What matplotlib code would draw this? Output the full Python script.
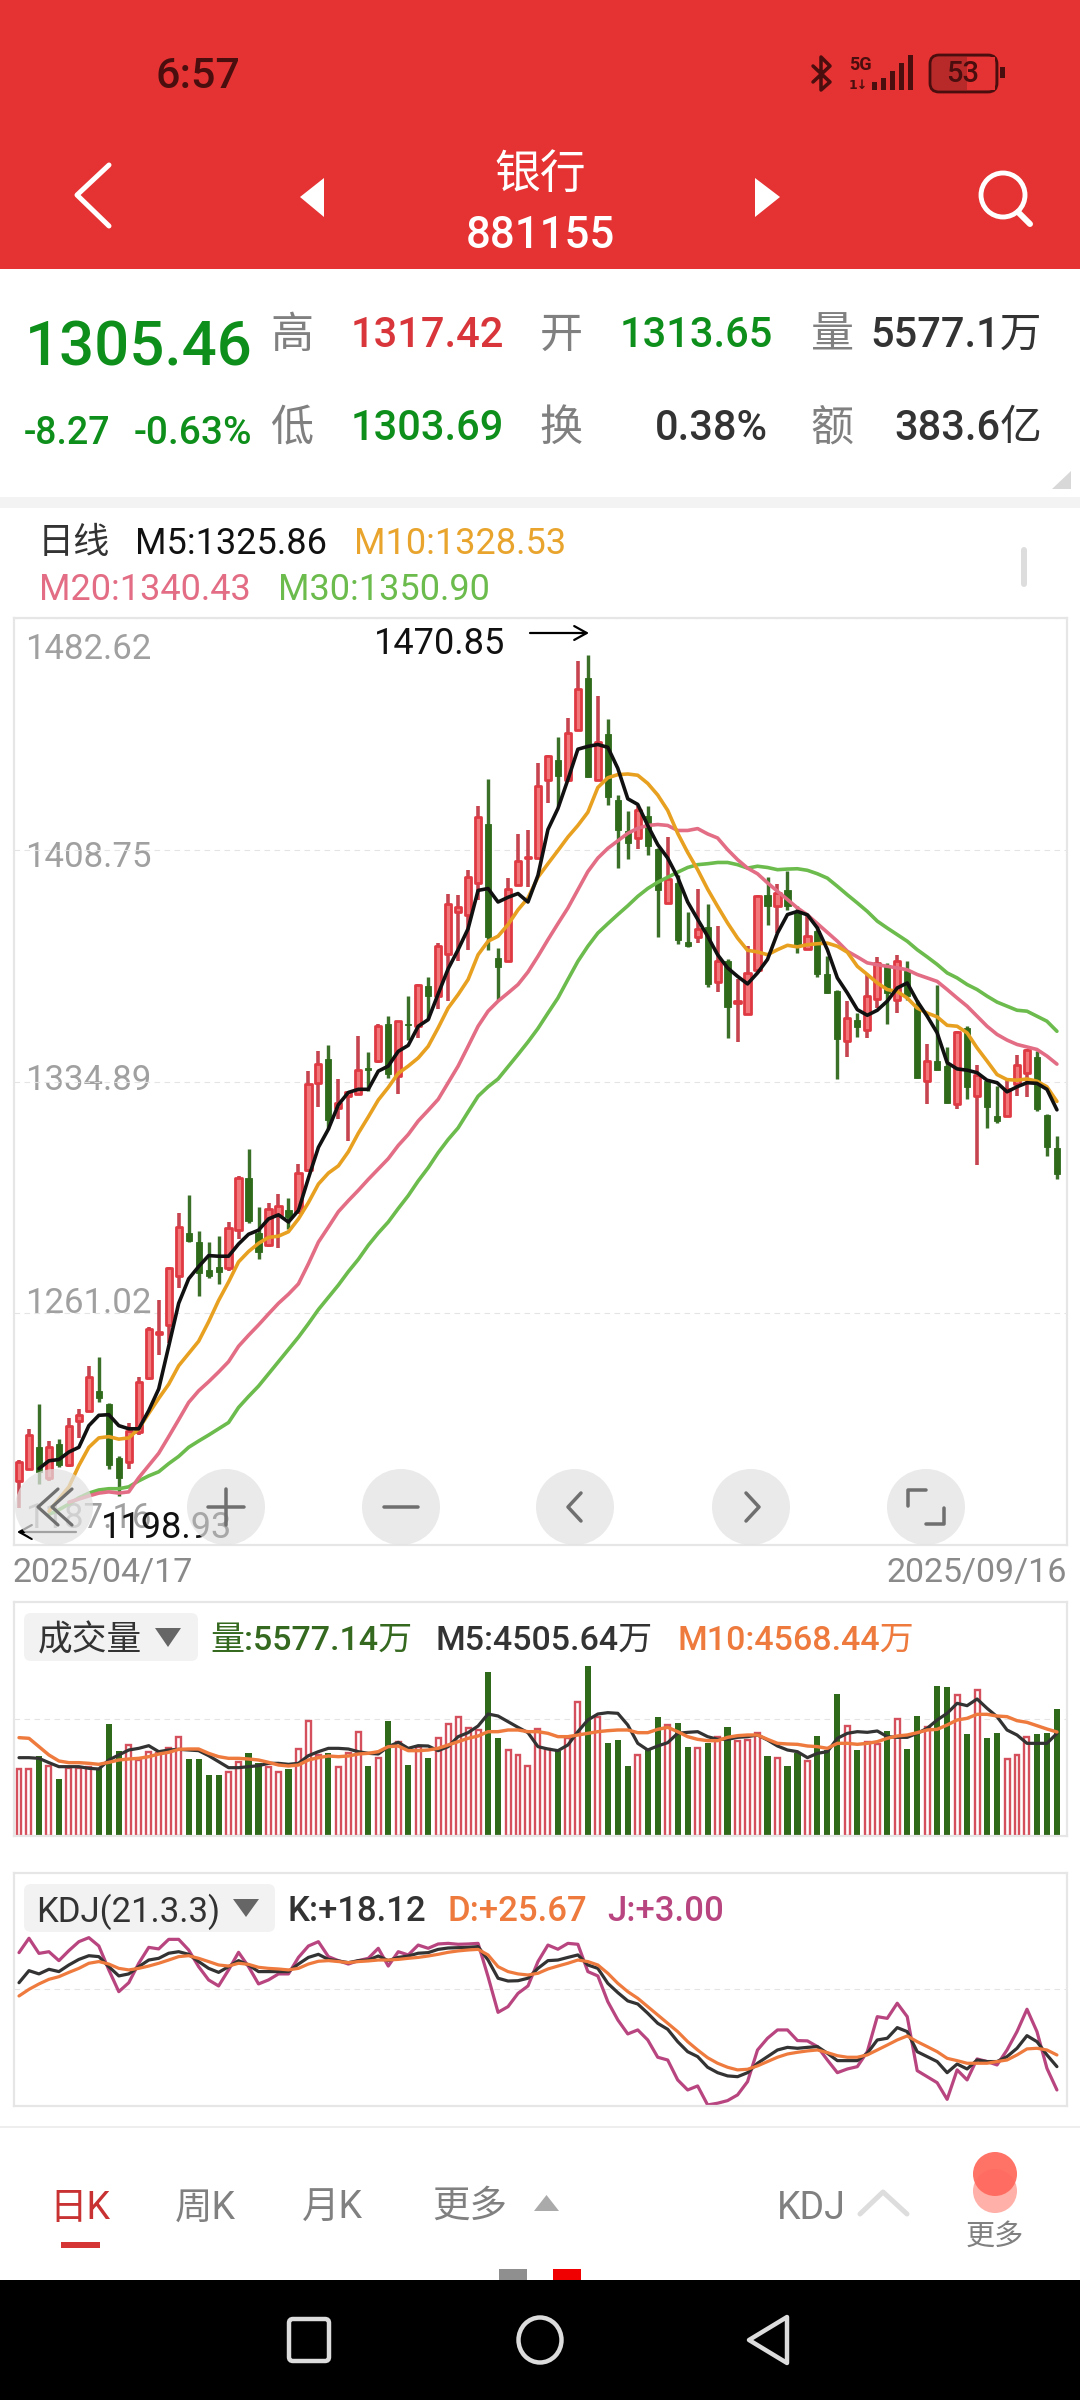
"""Daily K-line screen for 881155, redrawn with matplotlib."""
import numpy as np
import matplotlib
matplotlib.use("Agg")
import matplotlib.pyplot as plt
from matplotlib.patches import Rectangle, Ellipse, Circle, FancyBboxPatch, Polygon

plt.rcParams['font.family'] = ['Roboto', 'Noto Sans CJK SC', 'DejaVu Sans']

opens = [1207.6, 1211.5, 1218.3, 1208.6, 1219.3, 1212.5, 1226.7, 1230.0, 1236.3, 1232.0,
         1214.8, 1213.5, 1223.2, 1240.4, 1254.4, 1257.3, 1272.9, 1286.6, 1283.7, 1274.9,
         1275.9, 1275.3, 1287.5, 1304.1, 1286.6, 1282.7, 1292.4, 1294.0, 1293.4, 1306.7,
         1334.3, 1342.1, 1326.5, 1330.4, 1330.8, 1339.1, 1341.5, 1353.3, 1336.6, 1353.3,
         1352.5, 1365.3, 1362.2, 1375.6, 1389.0, 1387.8, 1398.2, 1417.1, 1374.4, 1373.2,
         1397.6, 1406.1, 1406.1, 1431.1, 1437.4, 1431.1, 1446.9, 1463.4, 1431.1, 1445.5,
         1424.6, 1414.6, 1412.5, 1419.5, 1408.9, 1391.8, 1398.2, 1379.5, 1380.9, 1384.2,
         1366.7, 1373.2, 1359.9, 1356.4, 1370.5, 1394.4, 1390.9, 1396.0, 1388.6, 1377.1,
         1382.7, 1369.3, 1363.6, 1347.7, 1354.4, 1351.4, 1361.2, 1372.0, 1361.0, 1370.0,
         1359.7, 1335.2, 1341.4, 1339.8, 1327.6, 1352.0, 1330.4, 1335.0, 1323.9, 1323.9,
         1334.0, 1337.6, 1342.8, 1324.1, 1313.65]
highs = [1214.4, 1224.2, 1232.0, 1220.3, 1220.9, 1227.7, 1230.6, 1244.1, 1247.0, 1232.4,
         1215.4, 1226.2, 1240.8, 1256.8, 1265.1, 1275.9, 1293.0, 1298.6, 1287.2, 1283.7,
         1285.6, 1290.1, 1304.7, 1313.3, 1295.0, 1296.3, 1298.9, 1297.7, 1308.6, 1338.2,
         1344.5, 1346.4, 1335.7, 1331.8, 1349.4, 1344.3, 1353.3, 1355.9, 1354.3, 1362.2,
         1365.9, 1368.3, 1379.0, 1394.8, 1394.3, 1402.4, 1422.6, 1431.3, 1377.5, 1399.6,
         1413.7, 1415.2, 1436.3, 1439.0, 1444.7, 1450.9, 1468.9, 1470.85, 1457.9, 1450.3,
         1426.2, 1421.1, 1422.6, 1422.6, 1409.2, 1412.8, 1400.6, 1389.0, 1396.4, 1391.5,
         1384.4, 1373.8, 1367.7, 1378.1, 1394.4, 1400.1, 1397.9, 1401.9, 1390.9, 1388.0,
         1384.3, 1375.0, 1363.9, 1360.5, 1356.7, 1369.0, 1374.6, 1372.5, 1375.3, 1373.4,
         1361.0, 1346.9, 1365.8, 1345.9, 1350.9, 1352.5, 1340.1, 1335.5, 1333.6, 1336.1,
         1343.3, 1345.3, 1344.5, 1324.4, 1317.42]
lows = [1198.93, 1211.5, 1206.6, 1207.6, 1211.9, 1211.9, 1221.3, 1229.4, 1232.6, 1211.5,
        1202.8, 1211.5, 1222.2, 1239.8, 1247.6, 1251.5, 1269.0, 1283.7, 1266.5, 1272.3,
        1270.4, 1274.5, 1284.6, 1289.9, 1278.4, 1282.3, 1281.7, 1288.0, 1292.8, 1306.1,
        1326.9, 1319.7, 1323.0, 1315.8, 1330.5, 1331.8, 1340.9, 1336.0, 1330.9, 1348.2,
        1348.8, 1354.9, 1358.0, 1360.4, 1373.2, 1376.9, 1392.7, 1376.9, 1361.0, 1373.0,
        1397.2, 1397.0, 1405.7, 1423.5, 1422.6, 1430.5, 1446.7, 1431.9, 1430.8, 1422.9,
        1403.0, 1405.7, 1408.9, 1407.0, 1380.9, 1391.5, 1378.7, 1377.7, 1378.9, 1365.0,
        1363.4, 1348.8, 1347.6, 1356.2, 1369.5, 1384.9, 1382.2, 1389.4, 1375.9, 1376.9,
        1368.2, 1363.0, 1335.7, 1342.8, 1349.1, 1348.8, 1358.3, 1353.3, 1356.7, 1361.0,
        1336.0, 1327.8, 1338.6, 1327.9, 1326.0, 1329.2, 1308.3, 1320.1, 1321.7, 1323.6,
        1330.2, 1330.0, 1325.6, 1311.1, 1303.69]
closes = [1213.5, 1222.2, 1210.5, 1218.3, 1212.5, 1225.2, 1228.7, 1240.8, 1233.9, 1212.5,
          1208.6, 1223.6, 1239.2, 1256.0, 1255.0, 1275.3, 1288.5, 1284.0, 1273.9, 1272.9,
          1274.3, 1288.1, 1304.1, 1290.5, 1280.7, 1294.4, 1295.3, 1291.8, 1305.7, 1334.0,
          1340.6, 1322.6, 1328.1, 1331.4, 1338.7, 1338.5, 1352.5, 1337.3, 1354.1, 1352.9,
          1365.5, 1362.2, 1378.1, 1391.5, 1390.5, 1400.0, 1419.1, 1381.1, 1371.4, 1396.4,
          1405.1, 1406.5, 1429.2, 1438.6, 1432.3, 1445.9, 1460.0, 1432.0, 1443.0, 1425.6,
          1415.2, 1411.0, 1421.3, 1409.8, 1395.8, 1399.4, 1379.9, 1378.1, 1383.6, 1365.9,
          1373.2, 1358.6, 1360.7, 1369.6, 1393.9, 1390.9, 1395.0, 1390.9, 1378.0, 1381.4,
          1369.0, 1363.1, 1348.3, 1355.2, 1352.3, 1362.1, 1372.7, 1363.1, 1373.2, 1362.1,
          1336.1, 1341.4, 1338.7, 1328.1, 1350.7, 1333.2, 1337.1, 1326.8, 1322.3, 1332.6,
          1340.3, 1344.9, 1326.0, 1314.0, 1305.46]

# moving averages, first sessions hidden by the buttons are left out
ma5_start = 2
ma5 = [1211.5, 1214.0, 1214.4, 1216.8, 1218.3, 1225.2, 1228.5, 1228.7, 1225.2, 1224.2,
       1224.2, 1230.0, 1236.9, 1250.5, 1264.2, 1272.0, 1275.9, 1279.4, 1279.2, 1279.2,
       1283.1, 1286.2, 1287.5, 1291.1, 1292.4, 1290.1, 1293.8, 1304.1, 1313.9, 1319.7,
       1327.5, 1331.4, 1332.4, 1332.4, 1338.2, 1339.8, 1344.5, 1346.4, 1352.5, 1354.6,
       1362.8, 1370.8, 1376.9, 1383.6, 1395.8, 1396.4, 1392.1, 1393.6, 1394.8, 1392.1,
       1400.6, 1415.2, 1421.9, 1431.1, 1440.8, 1441.7, 1442.3, 1441.4, 1434.7, 1425.0,
       1423.2, 1416.5, 1410.4, 1406.1, 1400.0, 1392.1, 1386.6, 1381.2, 1375.3, 1371.1,
       1368.4, 1366.0, 1369.5, 1373.8, 1382.2, 1388.1, 1389.1, 1388.0, 1383.8, 1376.9,
       1367.9, 1363.1, 1357.8, 1356.0, 1357.6, 1360.5, 1364.7, 1366.3, 1360.5, 1355.7,
       1350.4, 1340.9, 1338.9, 1338.5, 1337.7, 1335.3, 1334.5, 1331.6, 1333.2, 1334.5,
       1334.3, 1332.4, 1325.86]
ma10_start = 3
ma10 = [1197.9, 1201.8, 1205.7, 1212.5, 1218.3, 1221.3, 1221.7, 1220.9, 1221.3, 1224.2,
        1229.1, 1233.9, 1238.4, 1244.3, 1248.2, 1252.1, 1258.3, 1265.1, 1271.0, 1277.4,
        1280.7, 1283.3, 1285.2, 1285.6, 1287.0, 1291.1, 1296.3, 1302.2, 1305.7, 1308.0,
        1312.5, 1318.4, 1323.6, 1329.0, 1333.0, 1337.5, 1339.8, 1342.4, 1346.1, 1352.0,
        1358.3, 1362.6, 1367.4, 1375.3, 1379.6, 1381.2, 1384.9, 1389.6, 1393.4, 1400.0,
        1404.3, 1408.5, 1412.8, 1416.5, 1420.7, 1428.6, 1431.7, 1432.7, 1432.9, 1432.5,
        1429.9, 1426.2, 1421.3, 1414.0, 1407.9, 1402.4, 1396.2, 1390.7, 1385.4, 1380.6,
        1376.7, 1376.2, 1375.3, 1376.9, 1378.3, 1377.8, 1378.5, 1378.8, 1379.0, 1378.0,
        1376.1, 1371.6, 1369.0, 1366.3, 1364.2, 1363.6, 1361.5, 1358.3, 1356.7, 1355.5,
        1352.8, 1352.5, 1350.4, 1345.6, 1341.4, 1337.1, 1335.5, 1335.3, 1335.7, 1335.0,
        1333.2, 1328.53]
ma20_start = 5
ma20 = [1200.8, 1201.8, 1202.8, 1203.7, 1204.1, 1203.7, 1204.1, 1208.6, 1212.5, 1216.4,
        1221.7, 1227.1, 1232.6, 1236.3, 1239.2, 1242.3, 1245.6, 1250.5, 1254.0, 1257.3,
        1260.8, 1264.2, 1267.1, 1270.4, 1276.8, 1283.7, 1288.5, 1293.4, 1296.9, 1300.2,
        1303.7, 1307.0, 1310.3, 1314.5, 1318.0, 1322.3, 1325.7, 1329.2, 1334.5, 1339.8,
        1346.1, 1352.5, 1357.3, 1360.5, 1363.1, 1365.8, 1369.8, 1374.8, 1380.1, 1385.2,
        1390.2, 1396.0, 1401.8, 1406.1, 1409.2, 1411.6, 1414.0, 1415.6, 1416.5, 1416.8,
        1416.5, 1414.9, 1414.9, 1415.5, 1413.8, 1412.5, 1408.8, 1405.6, 1402.9, 1401.1,
        1398.2, 1395.5, 1392.9, 1390.2, 1388.0, 1385.2, 1382.4, 1379.6, 1376.4, 1374.6,
        1372.7, 1372.1, 1371.6, 1371.1, 1370.5, 1369.0, 1367.9, 1366.8, 1364.2, 1361.5,
        1358.9, 1355.7, 1352.5, 1349.9, 1348.1, 1346.7, 1345.9, 1345.1, 1343.0, 1340.43]
ma30_start = 3
ma30 = [1196.9, 1198.4, 1200.2, 1202.2, 1203.7, 1204.7, 1205.1, 1205.1, 1205.7, 1207.6,
        1209.2, 1210.5, 1213.1, 1215.4, 1218.3, 1220.3, 1222.2, 1224.2, 1226.2, 1231.0,
        1234.5, 1237.8, 1241.7, 1245.6, 1249.5, 1253.4, 1257.7, 1262.2, 1266.1, 1270.0,
        1274.3, 1278.2, 1282.7, 1286.6, 1290.1, 1294.4, 1298.5, 1303.2, 1307.4, 1312.2,
        1316.4, 1320.1, 1325.2, 1330.2, 1333.2, 1335.7, 1339.6, 1343.5, 1347.5, 1351.8,
        1356.7, 1361.5, 1367.4, 1373.2, 1378.0, 1382.2, 1385.2, 1388.1, 1390.9, 1393.9,
        1396.4, 1398.4, 1400.0, 1401.6, 1403.1, 1404.0, 1404.3, 1404.7, 1404.7, 1404.0,
        1402.9, 1403.5, 1403.1, 1402.4, 1402.6, 1402.7, 1402.2, 1401.1, 1399.7, 1397.1,
        1394.4, 1391.8, 1389.1, 1386.0, 1383.8, 1381.7, 1379.6, 1376.9, 1374.6, 1372.2,
        1369.5, 1367.9, 1365.8, 1364.2, 1362.1, 1360.2, 1358.9, 1357.6, 1357.3, 1355.7,
        1354.1, 1350.90]

volumes = [2928, 2928, 3528, 3074, 2489, 2972, 2972, 3045, 2972, 4904,
           3748, 3997, 3338, 3675, 3631, 3850, 4333, 3367, 3367, 2664,
           2664, 2826, 3235, 3631, 3192, 3016, 2811, 2928, 3821, 5051,
           3558, 3660, 3045, 3631, 4553, 3074, 3440, 5036, 4143, 3118,
           3924, 3426, 4290, 4919, 5212, 4743, 4656, 7203, 4290, 3777,
           3558, 3074, 4685, 3806, 3748, 4290, 5871, 7466, 5212, 4070,
           4216, 3074, 3558, 3777, 5212, 4875, 4948, 3894, 3880, 4099,
           4363, 4773, 4187, 4216, 4509, 3514, 3411, 3074, 3631, 3294,
           4392, 3777, 6237, 4831, 3777, 4143, 4026, 4597, 5124, 3821,
           5270, 4773, 6588, 6529, 6193, 4480, 6412, 4304, 4509, 3382,
           3558, 4363, 4480, 4509, 5577.14]
vol_m5 = [3440, 3440, 3411, 3221, 3045, 3045, 3045, 2972, 2943, 3338,
          3558, 3777, 3850, 3967, 3704, 3777, 3806, 3777, 3748, 3528,
          3265, 3001, 3001, 3045, 3089, 3192, 3192, 3148, 3192, 3528,
          3704, 3850, 3850, 3821, 3704, 3631, 3601, 3924, 4114, 3850,
          3967, 3953, 3748, 3924, 4363, 4538, 4831, 5358, 5270, 5022,
          4773, 4538, 3924, 3821, 3748, 3997, 4582, 5095, 5358, 5417,
          5388, 4875, 4070, 3777, 3953, 4099, 4509, 4553, 4582, 4363,
          4246, 4246, 4333, 4363, 4436, 4216, 3953, 3777, 3704, 3440,
          3631, 3704, 4290, 4509, 4582, 4553, 4612, 4363, 4333, 4333,
          4509, 4729, 5095, 5388, 5827, 5724, 6017, 5607, 5241, 4656,
          4436, 4070, 4070, 4070, 4505.64]
vol_m10 = [4319, 4290, 3924, 3558, 3294, 3221, 3221, 3192, 3148, 3235,
           3338, 3382, 3411, 3484, 3601, 3675, 3806, 3821, 3821, 3631,
           3484, 3411, 3411, 3382, 3338, 3235, 3118, 3074, 3118, 3338,
           3440, 3514, 3484, 3514, 3601, 3631, 3704, 3924, 3953, 3748,
           3748, 3777, 3850, 3997, 4143, 4290, 4392, 4582, 4582, 4656,
           4656, 4582, 4582, 4509, 4363, 4363, 4436, 4509, 4582, 4626,
           4656, 4656, 4538, 4538, 4685, 4773, 4582, 4363, 4246, 4187,
           4187, 4333, 4407, 4436, 4436, 4246, 4070, 4041, 4026, 3953,
           3924, 3850, 4070, 4070, 4026, 4070, 4143, 4290, 4392, 4436,
           4538, 4656, 4685, 4875, 5095, 5168, 5344, 5344, 5270, 5241,
           5065, 4992, 4846, 4699, 4568.44]

kdj_k = [72.5, 80.3, 78.2, 81.2, 79.7, 84.0, 87.6, 90.0, 89.4, 82.9,
         76.9, 78.2, 82.9, 87.2, 88.3, 91.6, 92.6, 90.9, 86.2, 81.8,
         79.2, 82.9, 86.8, 84.0, 79.7, 79.7, 79.7, 79.7, 84.6, 88.9,
         90.9, 87.6, 86.6, 85.5, 86.8, 87.2, 89.8, 86.8, 88.9, 89.8,
         91.6, 92.0, 94.1, 95.0, 95.2, 95.4, 95.9, 87.2, 75.4, 73.6,
         73.8, 75.4, 81.8, 86.8, 87.2, 88.9, 90.5, 84.0, 81.8, 72.1,
         66.1, 60.7, 58.7, 52.7, 46.2, 42.3, 34.3, 27.8, 24.6, 17.7,
         14.2, 12.1, 11.6, 14.2, 20.3, 24.6, 28.9, 30.6, 30.0, 30.6,
         31.1, 26.8, 22.0, 22.0, 22.0, 26.8, 35.4, 36.5, 43.4, 40.8,
         27.8, 24.6, 21.4, 14.2, 19.8, 16.6, 22.4, 21.4, 21.4, 24.6,
         30.0, 38.2, 34.3, 25.7, 18.12]
kdj_d = [63.9, 68.2, 71.7, 74.7, 76.4, 79.2, 81.8, 85.1, 86.2, 84.6,
         81.8, 80.8, 81.8, 83.3, 85.1, 87.2, 89.4, 90.0, 88.3, 86.2,
         84.0, 83.3, 85.1, 84.4, 82.5, 81.8, 81.4, 80.8, 81.8, 84.6,
         86.4, 86.8, 86.2, 85.5, 86.2, 86.6, 87.2, 87.2, 87.6, 88.3,
         88.9, 89.8, 90.9, 92.2, 93.1, 93.7, 94.1, 90.5, 82.9, 79.7,
         78.2, 77.5, 78.6, 81.4, 83.3, 85.1, 87.2, 86.2, 84.0, 78.6,
         72.1, 66.7, 62.4, 57.0, 51.6, 46.2, 40.8, 34.3, 28.9, 23.9,
         20.3, 17.7, 16.0, 16.4, 18.6, 21.4, 24.2, 26.3, 27.4, 28.3,
         28.9, 27.2, 25.2, 24.2, 24.2, 25.7, 28.9, 32.1, 35.4, 38.0,
         34.3, 31.1, 27.8, 23.5, 22.0, 20.3, 20.3, 20.3, 21.4, 22.4,
         25.7, 29.6, 30.0, 28.9, 25.67]
kdj_j = [92.0, 101.3, 91.5, 92.6, 86.8, 93.3, 99.1, 101.7, 96.3, 80.8,
         66.7, 72.5, 85.1, 95.4, 94.4, 100.6, 100.6, 93.7, 82.9, 74.3,
         70.4, 80.8, 92.2, 82.9, 71.7, 74.3, 78.2, 78.2, 88.9, 96.3,
         99.1, 89.4, 86.8, 84.6, 86.8, 88.3, 94.8, 83.3, 92.6, 90.5,
         96.9, 94.8, 97.6, 98.0, 97.4, 97.6, 98.0, 76.4, 53.3, 57.0,
         65.6, 70.4, 86.2, 96.9, 94.2, 98.0, 97.4, 79.7, 76.9, 60.2,
         48.4, 39.3, 41.9, 35.4, 24.2, 22.4, 9.5, 3.0, 5.6, -6.7,
         -5.6, -3.9, -0.2, 8.4, 28.9, 36.5, 41.9, 41.9, 35.0, 34.8,
         31.1, 22.4, 14.2, 16.6, 18.1, 27.8, 50.5, 49.4, 59.2, 50.5,
         15.5, 11.6, 7.7, -3.1, 16.0, 9.5, 23.1, 21.4, 19.2, 28.9,
         40.8, 55.3, 40.8, 17.0, 3.00]

price_ticks = [1482.62, 1408.75, 1334.89, 1261.02, 1187.16]
price_tick_labels = ['1482.62', '1408.75', '1334.89', '1261.02', '1187.16']
start_date, end_date = '2025/04/17', '2025/09/16'

W, H = 1080, 2400
RED, GREEN = '#df3a43', '#2f6a1b'
WICK_RED = '#c5444f'
PX = 0.72  # pixels to points at dpi 100
TEXT_DY = 3.5  # va=center sits a bit high with the CJK fallback


def panel(fig, left, top, right, bottom):
    ax = fig.add_axes([left / W, 1 - bottom / H, (right - left) / W, (bottom - top) / H])
    ax.set_xlim((left - 19) / 9.98, (right - 19) / 9.98)
    ax.set_xticks([])
    ax.tick_params(left=False, labelleft=False)
    for s in ax.spines.values():
        s.set_color('#e6e6e6')
        s.set_linewidth(1.6)
    ax.set_zorder(2)
    ax.patch.set_alpha(0)
    ax.grid(axis='y', ls=(0, (5, 4)), color='#e4e4e4', lw=0.8)
    ax.set_axisbelow(True)
    return ax


def txt(ax, x, y, s, size, color, ha='center', weight='normal', **kw):
    return ax.text(x, y + TEXT_DY, s, fontsize=size, color=color, ha=ha, va='center',
                   fontweight=weight, **kw)


def line(ax, xs, ys, color, lw, **kw):
    ax.plot(xs, ys, color=color, lw=lw * PX, solid_capstyle='round', solid_joinstyle='round', **kw)


fig = plt.figure(figsize=(W / 100, H / 100), dpi=100, facecolor='white')
bg = fig.add_axes([0, 0, 1, 1], zorder=0)
bg.set_xlim(0, W)
bg.set_ylim(H, 0)
bg.axis('off')
top = fig.add_axes([0, 0, 1, 1], zorder=5)
top.set_xlim(0, W)
top.set_ylim(H, 0)
top.axis('off')
top.patch.set_alpha(0)

# header
DARK_RED = '#4a0e0e'
bg.add_patch(Rectangle((0, 0), W, 269, color='#e53232', lw=0))
txt(bg, 198, 73, '6:57', 31, DARK_RED, weight='medium')
line(bg, [813, 830, 821, 821, 830, 813], [66, 82, 90, 57, 66, 82], DARK_RED, 3.5)
txt(bg, 860, 61, '5G', 13, DARK_RED, weight='bold')
txt(bg, 858, 82, '1↓', 9, DARK_RED, weight='bold', family=['DejaVu Sans'])
for bx, by in zip([872, 881, 890, 899, 908], [82, 78, 71, 63, 55]):
    bg.add_patch(Rectangle((bx, by), 5, 90 - by, color=DARK_RED, lw=0))
bg.add_patch(FancyBboxPatch((930, 55), 67, 37, boxstyle='round,pad=0,rounding_size=9',
                            fc='#b82a2a', ec=DARK_RED, lw=2))
bg.add_patch(Rectangle((967, 57), 28, 33, color='#e53232', lw=0))
bg.add_patch(Rectangle((1000, 67), 5, 11, color=DARK_RED, lw=0))
txt(bg, 963, 71, '53', 21, DARK_RED, weight='medium')

line(bg, [109, 77, 109], [165, 195, 226], 'white', 5)
bg.add_patch(Polygon([(324, 178), (300, 197), (324, 217)], color='white', lw=0))
bg.add_patch(Polygon([(755, 178), (780, 197), (755, 217)], color='white', lw=0))
bg.add_patch(Circle((1003, 195), 22, fc='none', ec='white', lw=3.5))
line(bg, [1018, 1030], [212, 224], 'white', 6)
txt(bg, 540, 172, '银行', 33, 'white')
txt(bg, 540, 233, '881155', 31.5, 'white', weight='medium')

# quote block
G2, R2, GR, DK = '#0e8f1b', '#d8363a', '#808080', '#333333'
txt(bg, 139, 345, '1305.46', 44.5, G2, weight='medium')
txt(bg, 67, 430, '-8.27', 27, G2, weight='medium')
txt(bg, 193, 430, '-0.63%', 28, G2, weight='medium')
for (cx, cy, s) in [(292, 333, '高'), (561, 333, '开'), (832, 333, '量'),
                    (292, 426, '低'), (561, 426, '换'), (832, 426, '额')]:
    txt(bg, cx, cy, s, 31, GR)
txt(bg, 427, 332, '1317.42', 30, R2, weight='medium')
txt(bg, 696, 332, '1313.65', 30, G2, weight='medium')
txt(bg, 1042, 332, '5577.1万', 30, DK, ha='right', weight='medium')
txt(bg, 427, 425, '1303.69', 30, G2, weight='medium')
txt(bg, 711, 425, '0.38%', 30, DK, weight='medium')
txt(bg, 1042, 425, '383.6亿', 30, DK, ha='right', weight='medium')
bg.add_patch(Polygon([(1071, 471), (1071, 489), (1052, 489)], color='#d8d8d8', lw=0))
bg.add_patch(Rectangle((0, 497), W, 11, color='#f3f3f3', lw=0))

# price legend
txt(bg, 74, 540, '日线', 26, DK)
txt(bg, 135, 541, 'M5:1325.86', 26, '#111111', ha='left')
txt(bg, 354, 541, 'M10:1328.53', 26, '#e8a42c', ha='left')
txt(bg, 39, 586, 'M20:1340.43', 26, '#e26d84', ha='left')
txt(bg, 278, 586, 'M30:1350.90', 26, '#6cbb4d', ha='left')
line(bg, [1024, 1024], [550, 584], '#dddddd', 6)

# candles
ax = panel(fig, 14, 618, 1067, 1545)
ax.set_ylim(price_ticks[-1], price_ticks[0])
ax.set_yticks(price_ticks)
idx = np.arange(len(closes))
o, h, l, c = map(np.array, (opens, highs, lows, closes))
up = c >= o
ax.vlines(idx[up], l[up], h[up], color=WICK_RED, lw=3.6 * PX, zorder=2)
ax.vlines(idx[~up], l[~up], h[~up], color='#3a7028', lw=3.4 * PX, zorder=2)
ax.bar(idx[up], (c - o)[up], bottom=o[up], width=0.62, fc='#f2777b', ec=RED, lw=2.0, zorder=3,
       capstyle='round', joinstyle='round')
ax.bar(idx[~up], (o - c)[~up], bottom=c[~up], width=0.62, fc=GREEN, ec=GREEN, lw=0.6, zorder=3)
line(ax, ma30_start + np.arange(len(ma30)), ma30, '#6cbb4d', 3.6, zorder=4)
line(ax, ma20_start + np.arange(len(ma20)), ma20, '#e26d84', 3.6, zorder=4)
line(ax, ma10_start + np.arange(len(ma10)), ma10, '#e8a020', 3.6, zorder=4)
line(ax, ma5_start + np.arange(len(ma5)), ma5, '#111111', 3.6, zorder=5)

for (ty, s) in zip([646, 854, 1077, 1300, 1515], price_tick_labels):
    txt(bg, 25, ty, s, 25, '#a0a0a0', ha='left')
txt(top, 374, 640, '1470.85', 26, '#111111', ha='left', zorder=1)
top.annotate('', xy=(589, 633), xytext=(530, 633),
             arrowprops=dict(arrowstyle='->,head_length=0.9,head_width=0.5', color='black', lw=1.6,
                             shrinkA=0, shrinkB=0))
txt(top, 101, 1525, '1198.93', 26, '#111111', ha='left', zorder=1)
top.annotate('', xy=(17, 1532), xytext=(76, 1532),
             arrowprops=dict(arrowstyle='->,head_length=0.9,head_width=0.5', color='black', lw=1.6,
                             shrinkA=0, shrinkB=0), zorder=1)

# overlay buttons
for bx in [54, 226, 401, 575, 751, 926]:
    top.add_patch(Ellipse((bx, 1507), 78, 76, fc='#e2e2e2', ec='none', alpha=0.72, zorder=3))
ICON = '#6f6f6f'
line(top, [58, 38, 58], [1489, 1507, 1525], ICON, 3.2, zorder=4)
line(top, [72, 52, 72], [1489, 1507, 1525], ICON, 3.2, zorder=4)
line(top, [208, 244], [1507, 1507], ICON, 3.5, zorder=4)
line(top, [226, 226], [1489, 1525], ICON, 3.5, zorder=4)
line(top, [384, 418], [1507, 1507], ICON, 3.5, zorder=4)
line(top, [581, 568, 581], [1493, 1507, 1521], ICON, 3.5, zorder=4)
line(top, [746, 759, 746], [1493, 1507, 1521], ICON, 3.5, zorder=4)
line(top, [908, 908, 926], [1506, 1490, 1490], ICON, 3.5, zorder=4)
line(top, [944, 944, 926], [1508, 1524, 1524], ICON, 3.5, zorder=4)

txt(bg, 13, 1570, start_date, 24.5, '#8a8a8a', ha='left')
txt(bg, 1067, 1570, end_date, 24.5, '#8a8a8a', ha='right')

# volume panel
ax2 = panel(fig, 14, 1602, 1067, 1836)
ax2.set_ylim(0, 10277)
ax2.set_yticks([10277 / 2])
vol = np.array(volumes)
ax2.bar(idx[up], vol[up], width=0.5, fc='white', ec='#d4505c', lw=1.7, zorder=2)
ax2.bar(idx[~up], vol[~up], width=0.62, fc=GREEN, ec='none', zorder=2)
line(ax2, idx, vol_m5, '#333333', 3.2, zorder=3)
line(ax2, idx, vol_m10, '#ee7a3e', 3.4, zorder=4)

bg.add_patch(FancyBboxPatch((24, 1613), 174, 48, boxstyle='round,pad=0,rounding_size=7',
                            fc='#f2f2f2', ec='none'))
txt(bg, 90, 1637, '成交量', 25, DK)
bg.add_patch(Polygon([(155, 1628), (181, 1628), (168, 1647)], color='#666666', lw=0))
txt(bg, 210, 1637, '量:5577.14万', 24.5, '#35691f', ha='left', weight='medium')
txt(bg, 436, 1637, 'M5:4505.64万', 24.5, DK, ha='left', weight='medium')
txt(bg, 677, 1637, 'M10:4568.44万', 24.5, '#ee7a3e', ha='left', weight='medium')

# KDJ panel
ax3 = panel(fig, 14, 1873, 1067, 2106)
ax3.set_ylim(-7.4, 143.6)
ax3.set_yticks([68.2])
line(ax3, idx, kdj_j, '#b8457f', 3.2, zorder=2)
line(ax3, idx, kdj_k, '#333333', 3.2, zorder=3)
line(ax3, idx, kdj_d, '#ee7a3e', 3.2, zorder=4)

bg.add_patch(FancyBboxPatch((24, 1884), 251, 48, boxstyle='round,pad=0,rounding_size=7',
                            fc='#f2f2f2', ec='none'))
txt(bg, 36, 1908, 'KDJ(21.3.3)', 25, DK, ha='left')
bg.add_patch(Polygon([(233, 1899), (259, 1899), (246, 1917)], color='#666666', lw=0))
txt(bg, 288, 1908, 'K:+18.12', 25, DK, ha='left', weight='medium')
txt(bg, 448, 1908, 'D:+25.67', 25, '#ee7a3e', ha='left', weight='medium')
txt(bg, 607, 1908, 'J:+3.00', 25, '#b8457f', ha='left', weight='medium')

# bottom tabs
line(bg, [0, W], [2127, 2127], '#eeeeee', 2)
TAB = '#808080'
txt(bg, 80, 2205, '日K', 27, '#c83232')
bg.add_patch(Rectangle((61, 2242), 39, 6, color='#d53535', lw=0))
txt(bg, 205, 2205, '周K', 27, TAB)
txt(bg, 332, 2205, '月K', 27, TAB)
txt(bg, 470, 2203, '更多', 27, TAB)
bg.add_patch(Polygon([(534, 2211), (559, 2211), (546.5, 2195)], color='#aaaaaa', lw=0))
txt(bg, 811, 2205, 'KDJ', 27, TAB)
line(bg, [860, 883, 907], [2214, 2192, 2214], '#dddddd', 5)
bg.add_patch(Ellipse((995, 2191), 44, 44, fc='#ffb0a8', ec='none'))
bg.add_patch(Ellipse((995, 2174), 44, 44, fc='#ff6a5e', ec='none', alpha=0.95))
txt(bg, 995, 2233, '更多', 21, TAB)
bg.add_patch(Rectangle((499, 2269), 28, 11, color='#8f8f8f', lw=0))
bg.add_patch(Rectangle((553, 2269), 28, 11, color='#f00000', lw=0))

# nav bar
bg.add_patch(Rectangle((0, 2280), W, 120, color='black', lw=0))
NAV = '#dcdcdc'
bg.add_patch(FancyBboxPatch((289, 2319), 40, 42, boxstyle='round,pad=0,rounding_size=4',
                            fc='none', ec=NAV, lw=3.2))
bg.add_patch(Ellipse((540, 2340), 43, 45, fc='none', ec=NAV, lw=3.2))
bg.add_patch(Polygon([(787, 2317), (749, 2340), (787, 2363)], closed=True, fc='none', ec=NAV, lw=3.2,
                     joinstyle='round'))

fig.savefig('out.png', dpi=100)
